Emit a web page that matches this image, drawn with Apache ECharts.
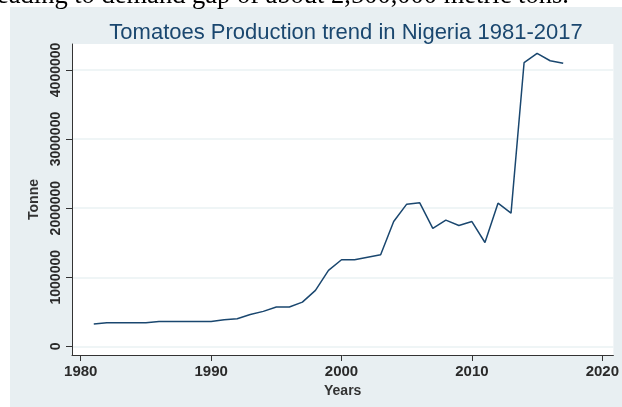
<!DOCTYPE html>
<html>
<head>
<meta charset="utf-8">
<script src="https://cdn.jsdelivr.net/npm/echarts@6/dist/echarts.min.js"></script>
<style>
  html, body { margin: 0; padding: 0; background: #fff; }
  #chart { width: 622px; height: 407px; }
</style>
</head>
<body>
<div id="chart"></div>
<script>
// tomato production, tonnes
const years = [1981, 1982, 1983, 1984, 1985, 1986, 1987, 1988, 1989, 1990,
  1991, 1992, 1993, 1994, 1995, 1996, 1997, 1998, 1999, 2000,
  2001, 2002, 2003, 2004, 2005, 2006, 2007, 2008, 2009, 2010,
  2011, 2012, 2013, 2014, 2015, 2016, 2017];
const tonnes = [324000, 342000, 342000, 342000, 342000, 361000, 361000, 361000, 361000, 361000,
  386000, 400000, 460000, 506000, 569000, 569000, 640000, 810000, 1100000, 1253000,
  1253000, 1290000, 1325000, 1806000, 2058000, 2077000, 1706000, 1826000, 1749000, 1806000,
  1503000, 2072000, 1928000, 4104000, 4240000, 4133000, 4095000];
const xTicks = [1980, 1990, 2000, 2010, 2020];
const yTicks = [0, 1000000, 2000000, 3000000, 4000000];

const navy = '#1a476f';
const chart = echarts.init(document.getElementById('chart'));

chart.setOption({
  backgroundColor: '#ffffff',
  animation: false,
  title: {
    text: 'Tomatoes Production trend in Nigeria 1981-2017',
    left: 341,
    textAlign: 'center',
    top: 17,
    textStyle: { color: navy, fontFamily: 'Liberation Sans', fontSize: 22, fontWeight: 'normal' }
  },
  graphic: [
    { type: 'rect', shape: { x: 10, y: 7, width: 620, height: 410 }, style: { fill: '#e8eff2' }, z: -10, silent: true },
    {
      type: 'text', left: -3, top: -17, z: 10,
      style: { text: 'eading to demand gap of about 2,500,000 metric tons.', fill: '#000', font: '26.5px "Liberation Serif"' }
    }
  ],
  grid: {
    left: 72, right: 6, top: 44, bottom: 52,
    show: true, backgroundColor: '#ffffff', borderWidth: 0
  },
  xAxis: {
    type: 'value',
    min: 1979.33, max: 2020.85,
    name: 'Years', nameLocation: 'middle', nameGap: 28,
    nameTextStyle: { color: '#333', fontFamily: 'Liberation Sans', fontSize: 14, fontWeight: 'bold' },
    axisLine: { show: true, onZero: false, lineStyle: { color: '#333', width: 1 } },
    axisTick: { show: true, length: 6, customValues: xTicks, lineStyle: { color: '#333' } },
    axisLabel: {
      customValues: xTicks, margin: 9, color: '#2a2a2a', formatter: v => String(v),
      fontFamily: 'Liberation Sans', fontSize: 15, fontWeight: 'bold'
    },
    splitLine: { show: false }
  },
  yAxis: {
    type: 'value',
    min: -125000, max: 4375000,
    name: 'Tonne', nameLocation: 'middle', nameGap: 31, nameRotate: 90,
    nameTextStyle: { color: '#333', fontFamily: 'Liberation Sans', fontSize: 14, fontWeight: 'bold' },
    axisLine: { show: true, onZero: false, lineStyle: { color: '#333', width: 1 } },
    axisTick: { show: true, length: 6, customValues: yTicks, lineStyle: { color: '#333' } },
    axisLabel: {
      customValues: yTicks, rotate: 90, margin: 9, color: '#2a2a2a', formatter: v => String(v),
      fontFamily: 'Liberation Sans', fontSize: 14, fontWeight: 'bold'
    },
    splitLine: { show: true, lineStyle: { color: '#eaf2f3', width: 1.5 } }
  },
  series: [{
    type: 'line',
    data: years.map((y, i) => [y, tonnes[i]]),
    showSymbol: false,
    lineStyle: { color: navy, width: 1.5 }
  }]
});
</script>
</body>
</html>
